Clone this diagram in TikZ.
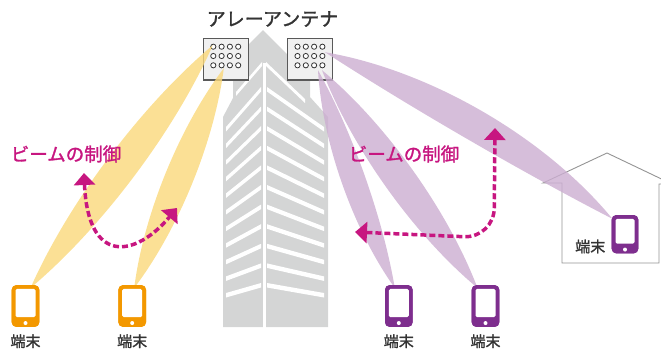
\documentclass[tikz,border=0pt]{standalone}
\usepackage{fontspec}
\setmainfont{Noto Sans CJK JP}[FakeBold=1.5]
\usepackage{xcolor}
\usetikzlibrary{calc, arrows.meta, positioning}

\definecolor{beamyellow}{RGB}{250,216,122}
\definecolor{beampurple}{RGB}{204,174,209}
\definecolor{termorange}{RGB}{243,152,0}
\definecolor{termpurple}{RGB}{126,46,142}
\definecolor{ctrlmagenta}{RGB}{199,22,128}
\definecolor{towergray}{RGB}{212,213,213}
\definecolor{textgray}{RGB}{51,51,51}

\tikzset{
	phone/.style = {rounded corners = 4.5pt, minimum width = 27.6pt, minimum height = 41.7pt, inner sep = 0pt},
	caption/.style = {text = textgray, font = \fontsize{15}{15}\selectfont, inner sep = 0pt},
	control/.style = {text = ctrlmagenta, font = \fontsize{18.5}{18.5}\selectfont, inner sep = 0pt},
	panel/.style = {draw = black!65, fill = black!6, line width = 1.2pt, minimum width = 45pt, minimum height = 41.7pt, inner sep = 0pt},
	element/.style = {draw = textgray, fill = white, line width = 0.8pt},
	steer/.style = {ctrlmagenta, line width = 3.5pt, dash pattern = on 6pt off 3pt, {Triangle[length = 12pt, width = 21pt]}-{Triangle[length = 12pt, width = 21pt]}},
}

% terminal: name, centre, colour
\newcommand{\terminal}[3]{%
	\node [phone, fill = #3] (#1) at (#2) {};
	\fill [white, rounded corners = 1.5pt] ($(#1.north west) + (4,4)$) rectangle ($(#1.south east) + (-4,-10)$);
	\fill [white] ($(#1.south) + (0,-4)$) circle (2pt);
}

% beam lobe: colour, from, to, spread, bend
\newcommand{\beam}[5]{%
	\pgfmathsetmacro{\sidea}{#4 + #5}
	\pgfmathsetmacro{\sideb}{#5 - #4}
	\fill [#1, opacity = 0.8] (#2) .. controls ($(#2)!0.3!(#3)!\sidea pt!90:(#3)$) and ($(#2)!0.7!(#3)!\sidea pt!90:(#3)$) .. (#3)
		.. controls ($(#2)!0.7!(#3)!\sideb pt!90:(#3)$) and ($(#2)!0.3!(#3)!\sideb pt!90:(#3)$) .. cycle;
}

\begin{document}
\begin{tikzpicture}[x = 1pt, y = -1pt]
	\useasboundingbox (0,0) rectangle (661,349);
	
	% tower
	\fill [towergray] (223,327) -- (223,117) -- (233,98) -- (233,60) -- (263,30) -- (310,77) -- (310,97) -- (328,117) -- (328,327) -- cycle;
	\fill [white] (263.3,63) rectangle (265.7,328);
	\fill [white] (236,92) -- (262,62) -- (262,66) -- (236,96) -- cycle;
	\fill [white] (266,62) -- (305,99) -- (305,103) -- (266,66) -- cycle;
	\foreach \i in {1,...,11} {
		\pgfmathsetmacro{\stripey}{87 + (\i - 1)*19.6}
		\pgfmathsetmacro{\striperise}{40 - (\i - 1)*3}
		\fill [white] (226, \stripey + \striperise) -- (261, \stripey) -- (261, \stripey + 4.5) -- (226, \stripey + \striperise + 4.5) -- cycle;
		\fill [white] (267, \stripey) -- (324, \stripey + \striperise) -- (324, \stripey + \striperise + 4.5) -- (267, \stripey + 4.5) -- cycle;
	}
	
	% array antennas
	\node [panel] (antL) at (225.8,59.2) {};
	\node [panel] (antR) at (310,59.2) {};
	\foreach \col in {0,...,3}
		\foreach \row in {0,1,2} {
			\draw [element] ($(antL) + (-12.5 + 8.3*\col, -12.5 + 9.3*\row)$) circle (2.6pt);
			\draw [element] ($(antR) + (-12.5 + 8.3*\col, -12.5 + 9.3*\row)$) circle (2.6pt);
		}
	
	% house
	\draw [black!42, line width = 0.9pt] (562,183) -- (543,183) -- (607,153) -- (672,184) -- (659,184) -- (659,263) -- (562,263) -- cycle;
	
	% terminals
	\terminal{t1}{25.5,306}{termorange}
	\terminal{t2}{132.2,306}{termorange}
	\terminal{t3}{398.8,306}{termpurple}
	\terminal{t4}{485.5,306}{termpurple}
	\node [phone, fill = termpurple, minimum width = 26.6pt, minimum height = 38.3pt] (t5) at (625,234.2) {};
	
	\coordinate (y1s) at ($(antL) + (-13,-14)$);
	\coordinate (y2s) at ($(antL) + (-2,9)$);
	\coordinate (p1s) at ($(antR) + (8,11)$);
	\coordinate (p2s) at ($(antR) + (12,11)$);
	\coordinate (p3s) at ($(antR) + (15,-7)$);
	\coordinate (e1) at ($(t1.north) + (5,3)$);
	\coordinate (e2) at ($(t2.north) + (2,3)$);
	\coordinate (e3) at ($(t3.north) + (-4,3)$);
	\coordinate (e4) at ($(t4.north) + (-8,3)$);
	\coordinate (e5) at ($(t5.north west) + (1,4)$);
	
	\beam{beamyellow}{y1s}{e1}{21}{0}
	\beam{beamyellow}{y2s}{e2}{19}{0}
	\beam{beampurple}{p1s}{e3}{16}{-4}
	\beam{beampurple}{p2s}{e4}{21}{0}
	\beam{beampurple}{p3s}{e5}{21}{16}
	
	\terminal{t1}{25.5,306}{termorange}
	\terminal{t2}{132.2,306}{termorange}
	\terminal{t3}{398.8,306}{termpurple}
	\terminal{t4}{485.5,306}{termpurple}
	\node [phone, fill = termpurple, minimum width = 26.6pt, minimum height = 38.3pt] (t5) at (625,234.2) {};
	\fill [white, rounded corners = 1.5pt] ($(t5.north west) + (4,4)$) rectangle ($(t5.south east) + (-4,-10)$);
	\fill [white] ($(t5.south) + (0,-4)$) circle (2pt);
	
	\node [caption, below = 7pt of t1] (c1) {端末};
	\node [caption, below = 7pt of t2] (c2) {端末};
	\node [caption, below = 7pt of t3] (c3) {端末};
	\node [caption, below = 7pt of t4] (c4) {端末};
	\node [caption, anchor = south east] (c5) at ($(t5.south west) + (-6,0)$) {端末};
	
	\node [text = textgray, font = \fontsize{19}{19}\selectfont, inner sep = 0pt] (title) at (272.5,19) {アレーアンテナ};
	\node [control] (ctrlL) at (66,154) {ビームの制御};
	\node [control] (ctrlR) at (404,154) {ビームの制御};
	
	% beam steering
	\coordinate (lup) at (84,173);
	\coordinate (ldown) at (177,208);
	\coordinate (rup) at (495,128);
	\coordinate (rleft) at (355,232);
	\draw [steer] (lup) .. controls (88,265) and (135,258) .. (ldown);
	\draw [steer, rounded corners = 30pt] (rup) -- (494,238) -- (rleft);
\end{tikzpicture}
\end{document}
